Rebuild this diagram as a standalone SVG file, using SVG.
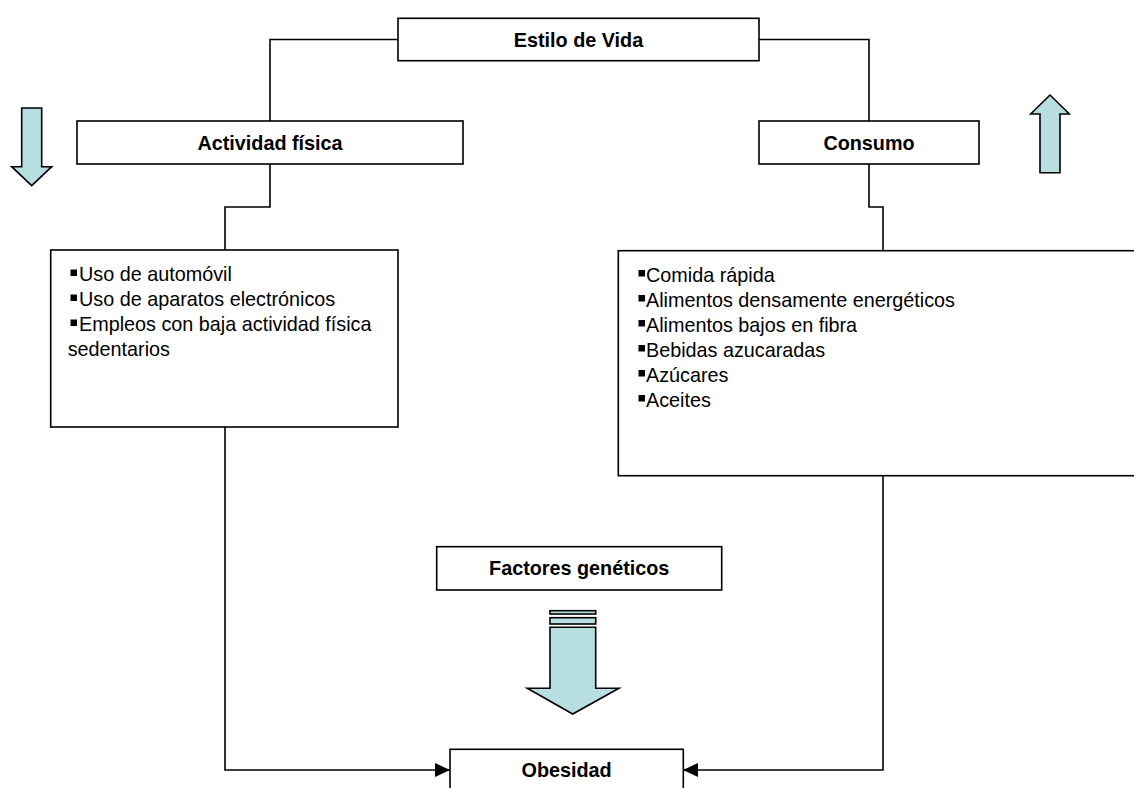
<svg xmlns="http://www.w3.org/2000/svg" width="1134" height="788" viewBox="0 0 1134 788">
  <defs>
    <style>
      .box { fill: #ffffff; stroke: #000000; stroke-width: 1.6; }
      .conn { fill: none; stroke: #000000; stroke-width: 1.6; }
      .big { fill: #B7DEE1; stroke: #000000; stroke-width: 1.6; stroke-linejoin: miter; }
      .title { font-family: "Liberation Sans", Arial, sans-serif; font-size: 19.8px; font-weight: bold; fill: #000000; text-anchor: middle; }
      .item { font-family: "Liberation Sans", Arial, sans-serif; font-size: 19.8px; fill: #000000; }
      .bullet { fill: #000000; }
    </style>
    <marker id="arrow" viewBox="0 0 15 14" refX="15" refY="7" markerWidth="15" markerHeight="14" markerUnits="userSpaceOnUse" orient="auto">
      <path d="M0,0 L15,7 L0,14 z" fill="#000000"/>
    </marker>
  </defs>
  <rect x="0" y="0" width="1134" height="788" fill="#ffffff"/>

  <g id="connectors">
    <path class="conn" d="M398,39.5 H270 V121"/>
    <path class="conn" d="M759,39.5 H869 V121"/>
    <path class="conn" d="M270,164 V207 H225 V250"/>
    <path class="conn" d="M869,164 V207 H883 V250.7"/>
    <path class="conn" d="M225,427 V770 H450" marker-end="url(#arrow)"/>
    <path class="conn" d="M883,476 V770 H683" marker-end="url(#arrow)"/>
  </g>

  <g id="estilo-de-vida">
    <rect class="box" x="398" y="18.3" width="361" height="42.4"/>
    <text class="title" x="578.5" y="46.5">Estilo de Vida</text>
  </g>

  <g id="actividad-fisica">
    <rect class="box" x="77" y="121" width="386" height="43"/>
    <text class="title" x="270" y="149.5">Actividad física</text>
  </g>

  <g id="consumo">
    <rect class="box" x="759" y="121" width="220" height="43"/>
    <text class="title" x="869" y="149.5">Consumo</text>
  </g>

  <g id="lista-actividad">
    <rect class="box" x="50.7" y="250" width="347.3" height="177"/>
    <rect class="bullet" x="70.5" y="269.5" width="6.5" height="6.5"/>
    <rect class="bullet" x="70.5" y="294.5" width="6.5" height="6.5"/>
    <rect class="bullet" x="70.5" y="319.5" width="6.5" height="6.5"/>
    <text class="item" x="79" y="281">Uso de automóvil</text>
    <text class="item" x="79" y="306">Uso de aparatos electrónicos</text>
    <text class="item" x="79" y="331">Empleos con baja actividad física</text>
    <text class="item" x="67.7" y="356">sedentarios</text>
  </g>

  <g id="lista-consumo">
    <rect class="box" x="618.3" y="250.7" width="530" height="225"/>
    <rect class="bullet" x="638.5" y="270" width="6.5" height="6.5"/>
    <rect class="bullet" x="638.5" y="295" width="6.5" height="6.5"/>
    <rect class="bullet" x="638.5" y="320" width="6.5" height="6.5"/>
    <rect class="bullet" x="638.5" y="345" width="6.5" height="6.5"/>
    <rect class="bullet" x="638.5" y="370" width="6.5" height="6.5"/>
    <rect class="bullet" x="638.5" y="395" width="6.5" height="6.5"/>
    <text class="item" x="646" y="281.5">Comida rápida</text>
    <text class="item" x="646" y="306.5">Alimentos densamente energéticos</text>
    <text class="item" x="646" y="331.5">Alimentos bajos en fibra</text>
    <text class="item" x="646" y="356.5">Bebidas azucaradas</text>
    <text class="item" x="646" y="381.5">Azúcares</text>
    <text class="item" x="646" y="406.5">Aceites</text>
  </g>

  <g id="factores-geneticos">
    <rect class="box" x="436.7" y="546.7" width="285" height="43.3"/>
    <text class="title" x="579.2" y="575.3">Factores genéticos</text>
  </g>

  <g id="obesidad">
    <rect class="box" x="450" y="749.3" width="233.3" height="60"/>
    <text class="title" x="566.6" y="777">Obesidad</text>
  </g>

  <g id="flecha-abajo">
    <path class="big" d="M21.7,108 H41.7 V166.7 H51.7 L31.7,185.7 L11.7,166.7 H21.7 Z"/>
  </g>

  <g id="flecha-arriba">
    <path class="big" d="M1040,172.7 H1060 V114 H1069.3 L1050,95 L1030.7,114 H1040 Z"/>
  </g>

  <g id="flecha-genetica">
    <rect class="big" x="550" y="610.7" width="45.7" height="3.3"/>
    <rect class="big" x="550" y="617.7" width="45.7" height="6.3"/>
    <path class="big" d="M550,627.3 H595.7 V688.3 H619 L572.7,714 L527.3,688.3 H550 Z"/>
  </g>
</svg>
